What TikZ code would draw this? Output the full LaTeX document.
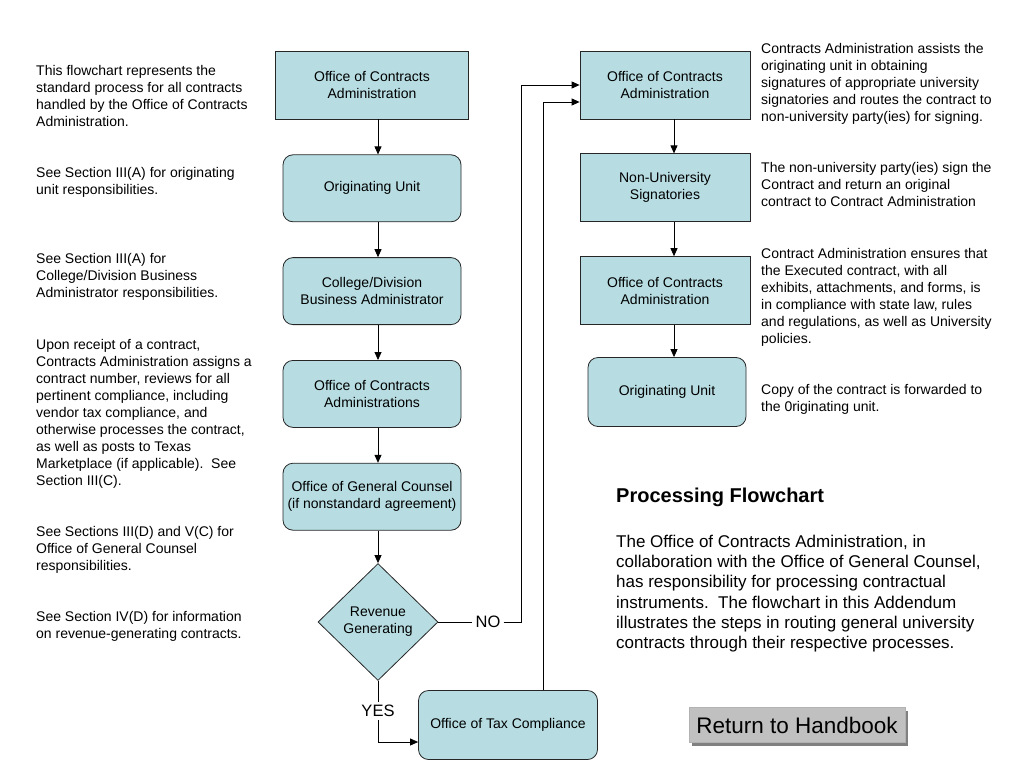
\documentclass[tikz,border=0pt]{standalone}
\usepackage{fontspec}
\setmainfont{Liberation Sans}
\usetikzlibrary{positioning,shapes.geometric,arrows.meta,shadows}
\definecolor{boxblue}{RGB}{183,221,226}
\definecolor{btngray}{RGB}{192,192,192}
\tikzset{
stepbox/.style={draw=black!85, fill=boxblue, line width=0.8pt, align=center,
  font=\fontsize{14}{17}\selectfont, inner sep=2pt},
squarebox/.style={stepbox},
roundbox/.style={stepbox, rounded corners=10pt},
note/.style={anchor=north west, align=left, inner sep=0pt, font=\fontsize{14}{17}\selectfont},
flow/.style={line width=0.8pt, -{Triangle[length=8pt,width=7pt]}},
link/.style={line width=0.8pt}
}
\begin{document}
\begin{tikzpicture}[x=1pt, y=-1pt,
node distance=35pt]
\useasboundingbox (0,0) rectangle (1024,768);

% left column
\node[squarebox, minimum width=193pt, minimum height=68pt] (lca) at (372,85) {Office of Contracts\\Administration};
\node[roundbox, minimum width=178pt, minimum height=67pt, below=of lca] (lou) {Originating Unit};
\node[roundbox, minimum width=178pt, minimum height=67pt, below=of lou] (cdba) {College/Division\\Business Administrator};
\node[roundbox, minimum width=178pt, minimum height=67pt, below=of cdba] (oca) {Office of Contracts\\Administrations};
\node[roundbox, minimum width=178pt, minimum height=67pt, below=of oca] (ogc) {Office of General Counsel\\(if nonstandard agreement)};
\node[stepbox, diamond, inner sep=1pt, minimum width=120pt, minimum height=117pt] (rev) at (378,622) {Revenue\\Generating};
\node[roundbox, minimum width=179pt, minimum height=69pt] (otc) at (508,725) {Office of Tax Compliance};

% right column
\node[squarebox, minimum width=170pt, minimum height=68pt] (rca) at (665,85) {Office of Contracts\\Administration};
\node[squarebox, minimum width=170pt, minimum height=68pt, below=34pt of rca] (nus) {Non-University\\Signatories};
\node[squarebox, minimum width=170pt, minimum height=68pt, below=34pt of nus] (rcb) {Office of Contracts\\Administration};
\node[roundbox, minimum width=158pt, minimum height=69pt] (rou) at (667,392) {Originating Unit};
\coordinate (rline) at (674,0);

% decision labels
\node[font=\fontsize{16.5}{18}\selectfont, inner sep=3pt] (no) at (488,622) {NO};
\node[font=\fontsize{16.5}{18}\selectfont, inner sep=3pt] (yes) at (378,711) {YES};
\coordinate (nobend) at (521,622);

% connectors
\draw[flow] (lca.south -| rev) -- (lou.north -| rev);
\draw[flow] (lou.south -| rev) -- (cdba.north -| rev);
\draw[flow] (cdba.south -| rev) -- (oca.north -| rev);
\draw[flow] (oca.south -| rev) -- (ogc.north -| rev);
\draw[flow] (ogc.south -| rev) -- (rev.north);
\draw[link] (rev.east) -- (no.west);
\draw[flow] (no.east) -- (nobend) |- (rca.west);
\draw[link] (rev.south) -- (yes.north);
\draw[flow] (yes.south) |- ([yshift=-17pt]otc.west);
\draw[flow] ([xshift=35pt]otc.north) |- ([yshift=-17pt]rca.west);
\draw[flow] (rca.south -| rline) -- (nus.north -| rline);
\draw[flow] (nus.south -| rline) -- (rcb.north -| rline);
\draw[flow] (rcb.south -| rline) -- (rou.north -| rline);

% notes on the left
\node[note] (n1) at (36,65) {This flowchart represents the\\standard process for all contracts\\handled by the Office of Contracts\\Administration.};
\node[note] (n2) at (36,167) {See Section III(A) for originating\\unit responsibilities.};
\node[note] (n3) at (36,253) {See Section III(A) for\\College/Division Business\\Administrator responsibilities.};
\node[note] (n4) at (36,339) {Upon receipt of a contract,\\Contracts Administration assigns a\\contract number, reviews for all\\pertinent compliance, including\\vendor tax compliance, and\\otherwise processes the contract,\\as well as posts to Texas\\Marketplace (if applicable).\ \ See\\Section III(C).};
\node[note] (n5) at (36,526) {See Sections III(D) and V(C) for\\Office of General Counsel\\responsibilities.};
\node[note] (n6) at (36,611) {See Section IV(D) for information\\on revenue-generating contracts.};

% notes on the right
\node[note] (m1) at (761,43) {Contracts Administration assists the\\originating unit in obtaining\\signatures of appropriate university\\signatories and routes the contract to\\non-university party(ies) for signing.};
\node[note] (m2) at (761,162) {The non-university party(ies) sign the\\Contract and return an original\\contract to Contract Administration};
\node[note] (m3) at (761,248) {Contract Administration ensures that\\the Executed contract, with all\\exhibits, attachments, and forms, is\\in compliance with state law, rules\\and regulations, as well as University\\policies.};
\node[note] (m4) at (761,384) {Copy of the contract is forwarded to\\the 0riginating unit.};

% summary
\node[anchor=west, inner sep=0pt, font=\fontsize{20}{24}\selectfont\bfseries] (title) at (616,497) {Processing Flowchart};
\node[note, font=\fontsize{17}{20.2}\selectfont] (summary) at (616,535) {The Office of Contracts Administration, in\\collaboration with the Office of General Counsel,\\has responsibility for processing contractual\\instruments.\ \ The flowchart in this Addendum\\illustrates the steps in routing general university\\contracts through their respective processes.};

% button
\node[fill=btngray, draw=gray!60, minimum width=216pt, minimum height=35pt, inner sep=0pt,
  drop shadow={shadow xshift=3pt, shadow yshift=-3pt, fill=black!50, opacity=1},
  font=\fontsize{22.5}{26}\selectfont] (back) at (797,725) {Return to Handbook};
\end{tikzpicture}
\end{document}
